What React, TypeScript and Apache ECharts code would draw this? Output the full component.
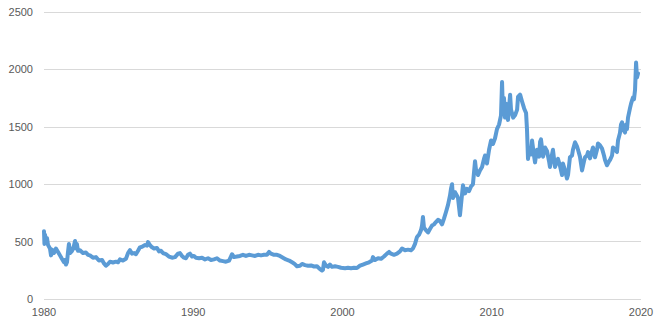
import React, { useEffect, useRef } from "react";
import * as echarts from "echarts";

const xTicks = [1980, 1990, 2000, 2010, 2020];
const yTicks = [0, 500, 1000, 1500, 2000, 2500];

// decimal year, price
const years1980s = [
  1980.0, 1980.03, 1980.07, 1980.13, 1980.2, 1980.27, 1980.4, 1980.47, 1980.54, 1980.67, 1980.8, 1980.94,
  1981.07, 1981.2, 1981.34, 1981.4, 1981.47, 1981.54, 1981.6, 1981.67, 1981.74, 1981.88, 1982.0, 1982.08,
  1982.14, 1982.2, 1982.28, 1982.41, 1982.61, 1982.81, 1982.95, 1983.08, 1983.28, 1983.48, 1983.68, 1983.89,
  1984.02, 1984.15, 1984.29, 1984.42, 1984.62, 1984.82, 1984.96, 1985.09, 1985.29, 1985.49, 1985.63, 1985.76,
  1985.9, 1986.03, 1986.16, 1986.3, 1986.43, 1986.57, 1986.77, 1986.9, 1986.97, 1987.1, 1987.24, 1987.37,
  1987.57, 1987.71, 1987.84, 1987.97, 1988.17, 1988.38, 1988.58, 1988.78, 1988.98, 1989.11, 1989.25, 1989.38,
  1989.51, 1989.65, 1989.78, 1989.92,
];
const prices1980s = [
  590, 480, 560, 500, 530, 470, 440, 380, 430, 400, 440, 410,
  380, 350, 320, 340, 300, 320, 400, 480, 400, 420, 460, 505,
  440, 480, 420, 425, 400, 405, 385, 380, 360, 365, 335, 340,
  310, 290, 305, 325, 318, 325, 320, 345, 335, 350, 400, 425,
  395, 400, 390, 420, 450, 455, 470, 465, 495, 470, 450, 440,
  445, 415, 420, 400, 390, 370, 360, 365, 395, 400, 375, 360,
  355, 385, 395, 370,
];

const years1990s = [
  1990.05, 1990.18, 1990.39, 1990.59, 1990.79, 1990.99, 1991.19, 1991.39, 1991.59, 1991.79, 1991.99, 1992.19,
  1992.4, 1992.6, 1992.73, 1992.93, 1993.13, 1993.33, 1993.53, 1993.74, 1993.94, 1994.14, 1994.34, 1994.54,
  1994.74, 1994.94, 1995.08, 1995.21, 1995.41, 1995.61, 1995.81, 1996.01, 1996.21, 1996.42, 1996.62, 1996.75,
  1996.95, 1997.15, 1997.29, 1997.49, 1997.69, 1997.89, 1998.09, 1998.29, 1998.49, 1998.63, 1998.69, 1998.76,
  1998.9, 1999.03, 1999.16, 1999.3, 1999.5, 1999.7, 1999.9,
];
const prices1990s = [
  375, 360, 355, 360, 345, 355, 340, 345, 355, 335, 330, 325,
  335, 390, 365, 370, 375, 385, 375, 385, 380, 375, 385, 380,
  385, 385, 410, 395, 385, 385, 375, 360, 345, 335, 320, 310,
  285, 290, 305, 295, 290, 292, 283, 285, 260, 248, 255, 320,
  290, 280, 300, 280, 285, 280, 272,
];

const years2000s = [
  2000.17, 2000.37, 2000.57, 2000.77, 2000.97, 2001.17, 2001.37, 2001.57, 2001.78, 2001.98, 2002.04, 2002.18,
  2002.38, 2002.58, 2002.78, 2002.98, 2003.12, 2003.25, 2003.45, 2003.65, 2003.85, 2003.99, 2004.19, 2004.39,
  2004.59, 2004.72, 2004.86, 2004.99, 2005.13, 2005.26, 2005.33, 2005.39, 2005.46, 2005.59, 2005.73, 2005.86,
  2006.0, 2006.13, 2006.26, 2006.4, 2006.53, 2006.67, 2006.8, 2006.94, 2007.07, 2007.2, 2007.27, 2007.34,
  2007.4, 2007.54, 2007.67, 2007.74, 2007.81, 2007.87, 2007.94, 2008.07, 2008.21, 2008.34, 2008.48, 2008.61,
  2008.74, 2008.88, 2008.94, 2009.08, 2009.21, 2009.35, 2009.48, 2009.55, 2009.68, 2009.82, 2009.95,
];
const prices2000s = [
  268, 272, 268, 272, 270, 290, 300, 310, 320, 335, 365, 340,
  355, 350, 370, 395, 410, 395, 385, 395, 415, 440, 425, 430,
  425, 440, 480, 540, 560, 600, 640, 715, 620, 600, 580, 610,
  640, 650, 670, 690, 680, 650, 700, 760, 820, 900, 960, 1000,
  880, 930, 900, 880, 800, 730, 820, 990, 920, 960, 940, 980,
  1000, 1200, 1130, 1080, 1120, 1150, 1220, 1250, 1180, 1300, 1380,
];

const years2010s = [
  2010.08, 2010.22, 2010.35, 2010.49, 2010.62, 2010.69, 2010.75, 2010.82, 2010.89, 2010.96, 2011.03, 2011.09,
  2011.23, 2011.29, 2011.43, 2011.56, 2011.7, 2011.76, 2011.9, 2012.03, 2012.17, 2012.3, 2012.36, 2012.43,
  2012.5, 2012.63, 2012.7, 2012.83, 2012.9, 2013.03, 2013.17, 2013.24, 2013.3, 2013.44, 2013.57, 2013.7,
  2013.84, 2013.9, 2014.04, 2014.1, 2014.24, 2014.37, 2014.44, 2014.57, 2014.71, 2014.77, 2014.91, 2015.04,
  2015.11, 2015.24, 2015.38, 2015.44, 2015.58, 2015.71, 2015.78, 2015.91, 2016.05, 2016.18, 2016.25, 2016.38,
  2016.45, 2016.58, 2016.72, 2016.78, 2016.92, 2017.05, 2017.12, 2017.25, 2017.39, 2017.52, 2017.59, 2017.72,
  2017.86, 2017.92, 2018.06, 2018.12, 2018.26, 2018.39, 2018.46, 2018.59, 2018.66, 2018.73, 2018.79, 2018.93,
  2019.0, 2019.06, 2019.13, 2019.26, 2019.33, 2019.4, 2019.46, 2019.53, 2019.6, 2019.67, 2019.73, 2019.8,
];
const prices2010s = [
  1350, 1400, 1480, 1520, 1600, 1890, 1620, 1750, 1580, 1700, 1590, 1560,
  1780, 1650, 1580, 1600, 1650, 1760, 1780, 1720, 1660, 1620, 1480, 1220,
  1300, 1260, 1380, 1250, 1190, 1300, 1240, 1370, 1390, 1240, 1320, 1290,
  1200, 1150, 1260, 1300, 1150, 1200, 1220, 1160, 1080, 1180, 1120, 1050,
  1080, 1235, 1250, 1300, 1365, 1330, 1300, 1240, 1120, 1200, 1235, 1250,
  1280, 1225, 1290, 1320, 1235, 1300, 1355, 1340, 1310, 1250, 1210, 1165,
  1200, 1210, 1250, 1320, 1300, 1280, 1380, 1445, 1520, 1540, 1480, 1450,
  1520, 1480, 1580, 1660, 1700, 1730, 1755, 1740, 1820, 2060, 1930, 1965,
];

const allYears = [...years1980s, ...years1990s, ...years2000s, ...years2010s];
const allPrices = [...prices1980s, ...prices1990s, ...prices2000s, ...prices2010s];

export default function App() {
  const ref = useRef<HTMLDivElement>(null);
  useEffect(() => {
    if (!ref.current) return;
    const chart = echarts.init(ref.current, undefined, { renderer: "svg" });
    const labelStyle = {
      color: "#595959",
      fontFamily: "Liberation Sans, Arial, sans-serif",
      fontSize: 11,
    };
    chart.setOption({
      animation: false,
      backgroundColor: "#ffffff",
      grid: { left: 44, right: 22, top: 12, bottom: 29, containLabel: false },
      xAxis: {
        type: "value",
        min: xTicks[0],
        max: xTicks[xTicks.length - 1],
        interval: 10,
        axisLine: { show: false },
        axisTick: { show: false },
        splitLine: { show: false },
        axisLabel: { ...labelStyle, margin: 7, formatter: (v: number) => String(v) },
      },
      yAxis: {
        type: "value",
        min: yTicks[0],
        max: yTicks[yTicks.length - 1],
        interval: 500,
        axisLine: { show: false },
        axisTick: { show: false },
        splitLine: { show: true, lineStyle: { color: "#d9d9d9", width: 1 } },
        axisLabel: { ...labelStyle, margin: 11, formatter: (v: number) => String(v) },
      },
      series: [
        {
          type: "line",
          data: allYears.map((y, i) => [y, allPrices[i]]),
          showSymbol: false,
          symbol: "none",
          lineStyle: { color: "#5b9bd5", width: 4, join: "round", cap: "round" },
        },
      ],
    });
    return () => chart.dispose();
  }, []);
  return (
    <div
      ref={ref}
      style={{ position: "absolute", left: 0, top: 0, width: 663, height: 328 }}
    />
  );
}
